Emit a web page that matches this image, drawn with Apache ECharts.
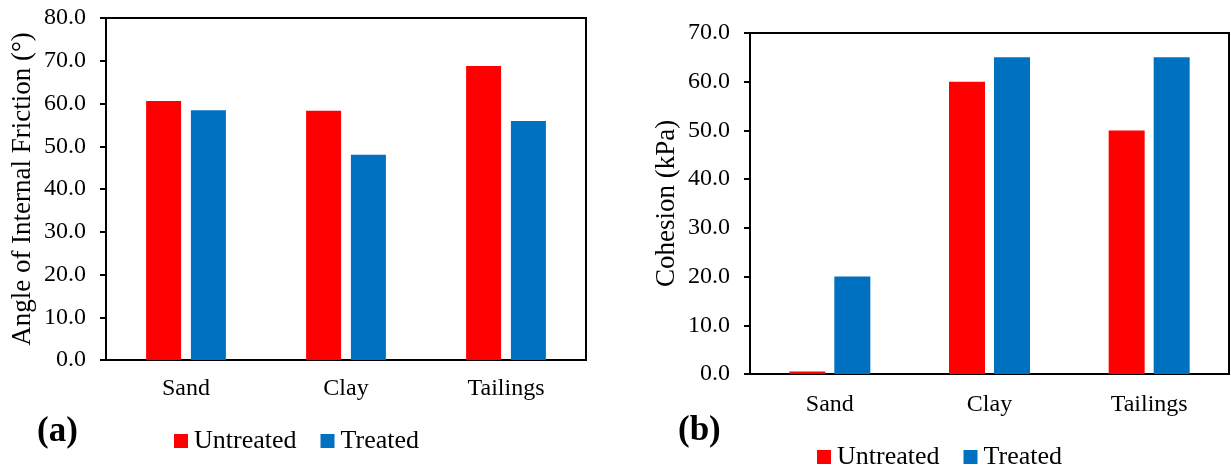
<!DOCTYPE html>
<html>
<head>
<meta charset="utf-8">
<script src="https://cdn.jsdelivr.net/npm/echarts@6/dist/echarts.min.js"></script>
<style>
  html, body { margin: 0; padding: 0; background: #fff; }
  #chart { width: 1231px; height: 468px; }
</style>
</head>
<body>
<div id="chart"></div>
<script>
// Soil types tested
const categories = ['Sand', 'Clay', 'Tailings'];
const seriesNames = ['Untreated', 'Treated'];

// (a) Angle of internal friction, degrees
const frictionUntreated = [60.6, 58.3, 68.8];
const frictionTreated = [58.4, 48.0, 55.9];

// (b) Cohesion, kPa
const cohesionUntreated = [0.5, 60.0, 50.0];
const cohesionTreated = [20.0, 65.0, 65.0];

const RED = '#FF0000';
const BLUE = '#0070C0';
const FONT = "'Liberation Serif', 'Times New Roman', serif";

const chart = echarts.init(document.getElementById('chart'), null, { renderer: 'canvas' });

function yAxis(gridIndex, max, name) {
  return {
    type: 'value', gridIndex, min: 0, max, interval: 10,
    name, nameLocation: 'middle', nameGap: 70,
    nameTextStyle: { fontFamily: FONT, fontSize: 27, color: '#000' },
    axisLine: { show: true, lineStyle: { color: '#000', width: 2 } },
    axisTick: { show: true, inside: false, length: 6, lineStyle: { color: '#000', width: 2 } },
    axisLabel: { fontFamily: FONT, fontSize: 24, color: '#000', margin: 20,
                 formatter: v => v.toFixed(1) },
    splitLine: { show: false }
  };
}

function xAxis(gridIndex, margin) {
  return {
    type: 'category', gridIndex, data: categories,
    axisLine: { show: true, lineStyle: { color: '#000', width: 2 } },
    axisTick: { show: false },
    axisLabel: { fontFamily: FONT, fontSize: 24, color: '#000', margin }
  };
}

function bars(name, data, color, idx, width, gap) {
  return {
    type: 'bar', name, data, xAxisIndex: idx, yAxisIndex: idx,
    barWidth: width, barGap: gap,
    itemStyle: { color },
    emphasis: { disabled: true }
  };
}

function legend(left, top) {
  return {
    data: seriesNames, left, top, padding: 0,
    itemWidth: 14, itemHeight: 14, itemGap: 24, icon: 'rect',
    textStyle: { fontFamily: FONT, fontSize: 26, color: '#000', padding: [0, 0, 0, 1] },
    selectedMode: false
  };
}

chart.setOption({
  animation: false,
  backgroundColor: '#fff',
  grid: [
    { left: 106, top: 18, width: 480, height: 342, show: true,
      borderColor: '#000', borderWidth: 2, backgroundColor: 'transparent' },
    { left: 750, top: 33, width: 479, height: 341, show: true,
      borderColor: '#000', borderWidth: 2, backgroundColor: 'transparent' }
  ],
  xAxis: [xAxis(0, 17), xAxis(1, 19)],
  yAxis: [
    yAxis(0, 80, 'Angle of Internal Friction (°)'),
    yAxis(1, 70, 'Cohesion (kPa)')
  ],
  legend: [legend(174, 428), legend(817, 444)],
  series: [
    bars('Untreated', frictionUntreated, RED, 0, 35, '28%'),
    bars('Treated', frictionTreated, BLUE, 0, 35, '28%'),
    bars('Untreated', cohesionUntreated, RED, 1, 36, '25%'),
    bars('Treated', cohesionTreated, BLUE, 1, 36, '25%')
  ],
  graphic: [
    { type: 'text', left: 37, top: 414,
      style: { text: '(a)', fontFamily: FONT, fontSize: 35, fontWeight: 'bold', fill: '#000' } },
    { type: 'text', left: 678, top: 413,
      style: { text: '(b)', fontFamily: FONT, fontSize: 35, fontWeight: 'bold', fill: '#000' } }
  ]
});
</script>
</body>
</html>
